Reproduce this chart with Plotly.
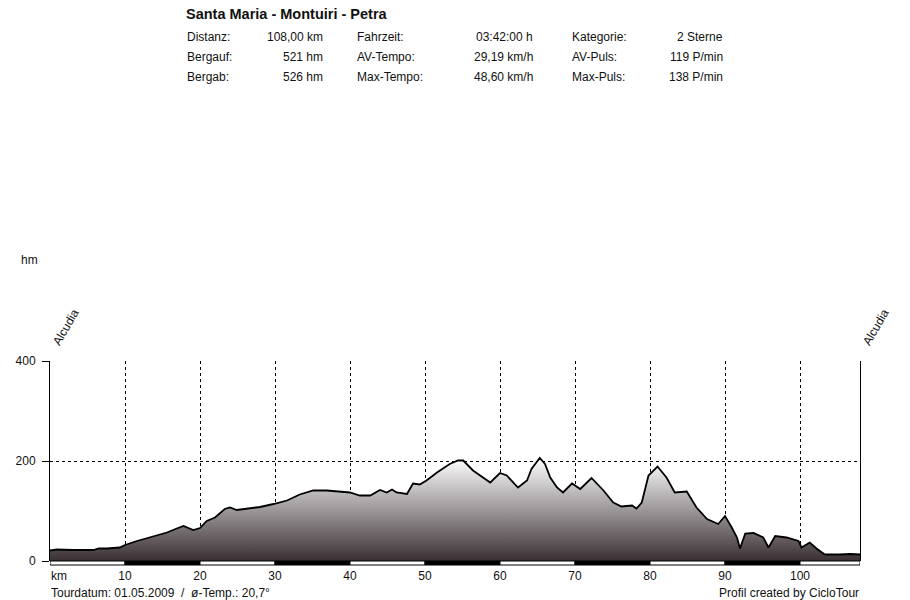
import plotly.graph_objects as go

# ---- data ----
km = [0, 0.9, 3.0, 5.8, 6.5, 7.6, 9.3, 10.0, 11.6, 13.3, 15.6, 16.9, 17.8, 19.1, 20.0, 20.9, 22.0,
      23.3, 24.0, 24.9, 26.2, 28.0, 29.8, 31.6, 33.3, 35.1, 36.9, 38.2, 40.0, 41.3, 42.7,
      44.0, 44.9, 45.6, 46.2, 47.6, 48.4, 49.3, 50.2, 51.6, 53.3, 54.4, 55.1, 56.4, 57.3,
      58.7, 60.0, 60.9, 62.4, 63.6, 64.2, 65.3, 66.0, 66.7, 67.6, 68.4, 69.6, 70.7, 72.2,
      73.8, 75.1, 76.2, 77.6, 78.2, 78.9, 79.8, 81.0, 82.2, 83.3, 84.9, 86.2, 87.6, 89.1,
      90.0, 90.9, 91.6, 92.0, 92.7, 93.8, 95.1, 95.8, 96.7, 98.2, 99.8, 100.2, 101.3,
      102.2, 103.3, 105.3, 106.7, 108.0]
hm = [21, 23, 22, 22, 25, 25, 27, 32, 40, 47, 57, 65, 70, 62, 66, 80, 87,
      104, 107, 102, 104, 108, 114, 121, 133, 141, 141, 139, 137, 131, 131,
      142, 137, 143, 137, 134, 155, 153, 161, 177, 194, 201, 201, 181, 171,
      157, 176, 171, 147, 161, 184, 206, 194, 167, 147, 137, 155, 144, 166,
      141, 117, 109, 111, 105, 117, 171, 189, 167, 137, 139, 107, 84, 74,
      90, 67, 47, 25, 55, 56, 47, 27, 50, 47, 40, 27, 37,
      25, 13, 13, 14, 13]

x_ticks = [10, 20, 30, 40, 50, 60, 70, 80, 90, 100]
y_ticks = [0, 200, 400]

title = "Santa Maria - Montuiri - Petra"
info_labels_1 = ["Distanz:", "Bergauf:", "Bergab:"]
info_values_1 = ["108,00 km", "521 hm", "526 hm"]
info_labels_2 = ["Fahrzeit:", "AV-Tempo:", "Max-Tempo:"]
info_values_2 = ["03:42:00 h", "29,19 km/h", "48,60 km/h"]
info_labels_3 = ["Kategorie:", "AV-Puls:", "Max-Puls:"]
info_values_3 = ["2 Sterne", "119 P/min", "138 P/min"]
start_name = "Alcudia"
end_name = "Alcudia"
footer_left = "Tourdatum: 01.05.2009  /  ø-Temp.: 20,7°"
footer_right = "Profil created by CicloTour"

# ---- layout geometry (pixels) ----
W, H = 910, 600
L, R = 50, 860
TOP, BOT = 361, 561
FONT = "Liberation Sans, Arial, sans-serif"
FS = 12


def px(xp):
    return (xp - L) / (R - L)


def py(yp):
    return (BOT - yp) / (BOT - TOP)


fig = go.Figure()
fig.add_trace(go.Scatter(
    x=km, y=hm, mode="lines",
    line=dict(color="#000000", width=1.8),
    fill="tozeroy",
    fillgradient=dict(type="vertical",
                      colorscale=[[0, "#3a3033"], [1, "#ffffff"]],
                      start=0, stop=206),
    hoverinfo="x+y", showlegend=False,
))

shapes = []
# alternating km bar below the profile
for i, s in enumerate(range(0, 108, 10)):
    e = min(s + 10, 108)
    shapes.append(dict(type="rect", xref="x", yref="paper", x0=s, x1=e,
                       y0=-0.02, y1=0.0,
                       fillcolor="#000000" if i % 2 else "#ffffff",
                       line=dict(color="#000000", width=1), layer="above"))

ann = []
ann.append(dict(text="<b>" + title + "</b>", x=px(184), y=py(14), xref="paper", yref="paper",
                xanchor="left", yanchor="middle", showarrow=False,
                font=dict(size=14.5, family=FONT, color="#111")))
rows_y = [37, 57, 77]
cols = [(info_labels_1, info_values_1, 185, 325),
        (info_labels_2, info_values_2, 355, 535),
        (info_labels_3, info_values_3, 570, 725)]
for labels, values, lx, rx in cols:
    for lab, val, yy in zip(labels, values, rows_y):
        ann.append(dict(text=lab, x=px(lx), y=py(yy), xref="paper", yref="paper",
                        xanchor="left", yanchor="middle", showarrow=False,
                        font=dict(size=FS, family=FONT, color="#111")))
        ann.append(dict(text=val, x=px(rx), y=py(yy), xref="paper", yref="paper",
                        xanchor="right", yanchor="middle", showarrow=False,
                        font=dict(size=FS, family=FONT, color="#111")))

ann.append(dict(text="hm", x=px(19), y=py(260), xref="paper", yref="paper",
                xanchor="left", yanchor="middle", showarrow=False,
                font=dict(size=FS, family=FONT, color="#111")))
ann.append(dict(text=start_name, x=px(66), y=py(327), xref="paper", yref="paper",
                xanchor="center", yanchor="middle", showarrow=False, textangle=-60,
                font=dict(size=FS, family=FONT, color="#111")))
ann.append(dict(text=end_name, x=px(876), y=py(327), xref="paper", yref="paper",
                xanchor="center", yanchor="middle", showarrow=False, textangle=-60,
                font=dict(size=FS, family=FONT, color="#111")))
ann.append(dict(text="km", x=px(49), y=py(576), xref="paper", yref="paper",
                xanchor="left", yanchor="middle", showarrow=False,
                font=dict(size=FS, family=FONT, color="#111")))
ann.append(dict(text=footer_left, x=px(49), y=py(593), xref="paper", yref="paper",
                xanchor="left", yanchor="middle", showarrow=False,
                font=dict(size=FS, family=FONT, color="#111")))
ann.append(dict(text=footer_right, x=px(861), y=py(593), xref="paper", yref="paper",
                xanchor="right", yanchor="middle", showarrow=False,
                font=dict(size=FS, family=FONT, color="#111")))

fig.update_layout(
    width=W, height=H,
    margin=dict(l=L, r=W - R, t=TOP, b=H - BOT, pad=0),
    paper_bgcolor="#ffffff", plot_bgcolor="#ffffff",
    font=dict(family=FONT, size=FS, color="#111"),
    shapes=shapes, annotations=ann,
    xaxis=dict(range=[0, 108], tickvals=x_ticks, ticktext=[str(t) for t in x_ticks],
               showgrid=True, gridcolor="#000000", griddash="3px,3px", gridwidth=1,
               zeroline=False, showline=False, ticks="", ticklabelstandoff=6,
               tickfont=dict(size=FS), fixedrange=True),
    yaxis=dict(range=[0, 400], tickvals=y_ticks, ticktext=[str(t) for t in y_ticks],
               showgrid=True, gridcolor="#000000", griddash="3px,3px", gridwidth=1,
               zeroline=False, showline=True, linecolor="#000000", linewidth=1,
               mirror=True, ticks="outside", ticklen=7, tickcolor="#000000",
               ticklabelstandoff=4, tickfont=dict(size=FS), fixedrange=True),
)

fig.write_html("out.html", config={"displayModeBar": False},
               post_script="document.body.style.margin='0';document.body.style.overflow='hidden';")
